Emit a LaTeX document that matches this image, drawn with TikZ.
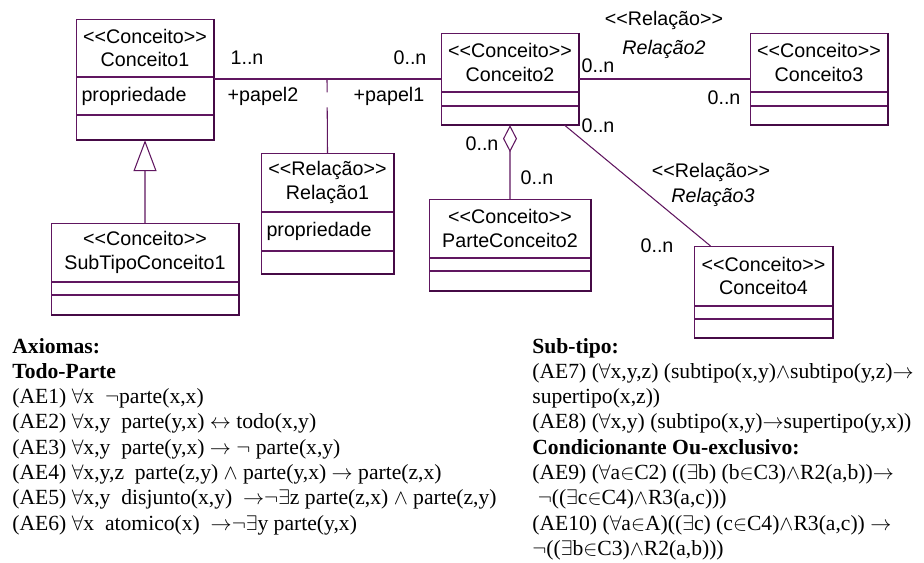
\documentclass[tikz,border=0pt]{standalone}
\usepackage{fontspec}
\setmainfont{Liberation Serif}
\newfontfamily\umlfont{Liberation Sans}
\usetikzlibrary{positioning,arrows.meta}
\definecolor{umlline}{RGB}{96,22,96}
\definecolor{umlsombra}{RGB}{70,10,70}
\newcommand{\estereo}[1]{<\kern0pt<#1>\kern0pt>}
\tikzset{
	cab/.style={draw=umlline, line width=0.6pt, fill=white, minimum width=#1, minimum height=1.16cm, inner sep=0pt, align=center, anchor=north west, font=\umlfont\fontsize{11.2}{13.6}\selectfont},
	comp/.style={draw=umlline, line width=0.6pt, fill=white, minimum width=#1, inner sep=0pt, font=\umlfont\fontsize{11.2}{13.6}\selectfont},
	sombra/.style={draw=umlsombra, line width=1.1pt},
	assoc/.style={draw=umlline, line width=0.6pt},
	lbl/.style={inner sep=0pt, font=\umlfont\fontsize{11.2}{13.6}\selectfont},
	axioma/.style={anchor=north west, inner sep=0pt, align=left, font=\fontsize{12.3}{14.4}\selectfont}
}
\begin{document}
\begin{tikzpicture}[x=0.02cm,y=-0.02cm]
				\useasboundingbox (0,0) rectangle (924,563);
				\node[cab=2.74cm, minimum height=1.14cm] (c1) at (76,19) {\estereo{Conceito}\\Conceito1};
				\node[comp=2.74cm, minimum height=0.74cm, text width=2.54cm, align=left, below=0pt of c1] (c1a) {propriedade};
				\node[comp=2.74cm, minimum height=0.48cm, below=0pt of c1a] (c1o) {};
				\node[cab=2.74cm] (c2) at (441,33) {\estereo{Conceito}\\Conceito2};
				\node[comp=2.74cm, minimum height=0.26cm, below=0pt of c2] (c2a) {};
				\node[comp=2.74cm, minimum height=0.36cm, below=0pt of c2a] (c2o) {};
				\node[cab=2.74cm] (c3) at (750,33) {\estereo{Conceito}\\Conceito3};
				\node[comp=2.74cm, minimum height=0.26cm, below=0pt of c3] (c3a) {};
				\node[comp=2.74cm, minimum height=0.36cm, below=0pt of c3a] (c3o) {};
				\node[cab=2.64cm] (r1) at (261,153) {\estereo{Relação}\\Relação1};
				\node[comp=2.64cm, minimum height=0.76cm, text width=2.44cm, align=left, below=0pt of r1] (r1a) {propriedade};
				\node[comp=2.64cm, minimum height=0.44cm, below=0pt of r1a] (r1o) {};
				\node[cab=3.74cm] (s1) at (51,223) {\estereo{Conceito}\\SubTipoConceito1};
				\node[comp=3.74cm, minimum height=0.24cm, below=0pt of s1] (s1a) {};
				\node[comp=3.74cm, minimum height=0.38cm, below=0pt of s1a] (s1o) {};
				\node[cab=3.22cm] (p2) at (429,199) {\estereo{Conceito}\\ParteConceito2};
				\node[comp=3.22cm, minimum height=0.24cm, below=0pt of p2] (p2a) {};
				\node[comp=3.22cm, minimum height=0.38cm, below=0pt of p2a] (p2o) {};
				\node[cab=2.76cm, minimum height=1.18cm] (c4) at (694,246) {\estereo{Conceito}\\Conceito4};
				\node[comp=2.76cm, minimum height=0.24cm, below=0pt of c4] (c4a) {};
				\node[comp=2.76cm, minimum height=0.36cm, below=0pt of c4a] (c4o) {};
				\foreach \cl in {c1,c2,c3,r1,s1,p2,c4}
					\draw[sombra] (\cl.north east) -- (\cl o.south east) -- (\cl o.south west);
				\coordinate (a1) at (327,79);
				\draw[assoc] (c1a.east |- a1) to (c2.west |- a1);
				\draw[assoc] (c2.east |- a1) to (c3.west |- a1);
				\draw[assoc, dash pattern=on 26pt off 8.5pt on 20pt] (r1.north) to (a1);
				\draw[assoc] ([xshift=1.09cm]c2o.south) to ([xshift=-1.06cm]c4.north);
				\draw[assoc, -{Diamond[open, length=0.54cm, width=0.28cm]}] (p2.north) to (c2o.south);
				\draw[assoc, -{Triangle[open, length=0.62cm, width=0.46cm]}] (s1.north) to (c1o.south);
				\node[lbl] (m1) at (247,58) {1..n};
				\node[lbl] (m2) at (410,58) {0..n};
				\node[lbl] (pp2) at (263,96) {+papel2};
				\node[lbl] (pp1) at (389,96) {+papel1};
				\node[lbl] (m3) at (598,66) {0..n};
				\node[lbl] (st2) at (664,20) {\estereo{Relação}};
				\node[lbl] (n2) at (664,49) {\itshape Relação2};
				\node[lbl] (m4) at (724,98) {0..n};
				\node[lbl] (m5) at (598,126) {0..n};
				\node[lbl] (m6) at (482,144) {0..n};
				\node[lbl] (m7) at (537,178) {0..n};
				\node[lbl] (st3) at (711,172) {\estereo{Relação}};
				\node[lbl] (n3) at (713,197) {\itshape Relação3};
				\node[lbl] (m8) at (657,246) {0..n};
				\node[axioma] (ax) at (12,335) {\strut\textbf{Axiomas:}\\
					\textbf{Todo-Parte}\\
					(AE1) $\forall$x\ \ $\neg$parte(x,x)\\
					(AE2) $\forall$x,y\ \ parte(y,x) $\leftrightarrow$ todo(x,y)\\
					(AE3) $\forall$x,y\ \ parte(y,x) $\rightarrow$ $\neg$ parte(x,y)\\
					(AE4) $\forall$x,y,z\ \ parte(z,y) $\wedge$ parte(y,x) $\rightarrow$ parte(z,x)\\
					(AE5) $\forall$x,y\ \ disjunto(x,y)\ \ $\rightarrow$$\neg\exists$z parte(z,x) $\wedge$ parte(z,y)\\
					(AE6) $\forall$x\ \ atomico(x)\ \ $\rightarrow$$\neg\exists$y parte(y,x)};
				\node[axioma] (st) at (532,335) {\strut\textbf{Sub-tipo:}\\
					(AE7) ($\forall$x,y,z) (subtipo(x,y)$\wedge$subtipo(y,z)$\rightarrow$\\
					supertipo(x,z))\\
					(AE8) ($\forall$x,y) (subtipo(x,y)$\rightarrow$supertipo(y,x))\\
					\textbf{Condicionante Ou-exclusivo:}\\
					(AE9) ($\forall$a$\in$C2) (($\exists$b) (b$\in$C3)$\wedge$R2(a,b))$\rightarrow$\\
					\ $\neg$(($\exists$c$\in$C4)$\wedge$R3(a,c)))\\
					(AE10) ($\forall$a$\in$A)(($\exists$c) (c$\in$C4)$\wedge$R3(a,c)) $\rightarrow$\\
					$\neg$(($\exists$b$\in$C3)$\wedge$R2(a,b)))};
			\end{tikzpicture}
\end{document}
